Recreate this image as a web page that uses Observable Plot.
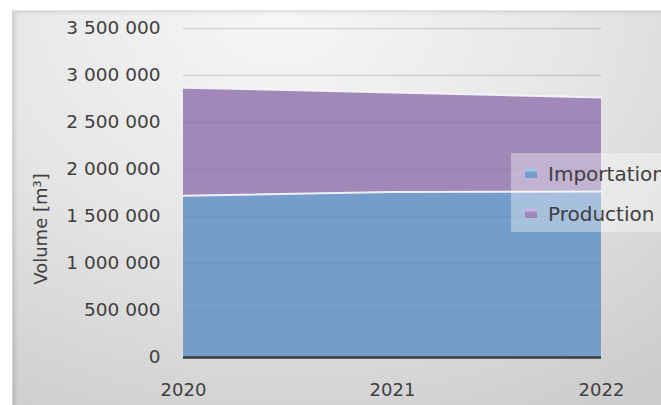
<!DOCTYPE html>
<html>
<head>
<meta charset="utf-8">
<script src="https://cdn.jsdelivr.net/npm/d3@7"></script>
<script src="https://cdn.jsdelivr.net/npm/@observablehq/plot@0.6"></script>
<style>
  html, body { margin: 0; padding: 0; background: #ffffff; }
  #wrap { position: relative; width: 661px; height: 405px; overflow: hidden; font-family: "DejaVu Sans", sans-serif; }
  #panel { position: absolute; left: 12px; top: 10px; right: -20px; bottom: -20px;
    background: radial-gradient(ellipse 90% 110% at 40% 0%, #f7f7f7 0%, #e6e6e6 50%, #cdcdcd 100%);
    border-top: 1px solid #e2e2e2; border-left: 1px solid #d2d2d2;
    box-shadow: inset 4px 3px 4px -2px rgba(0,0,0,0.12); }
  #chart { position: absolute; left: 0; top: 0; }
  #legend { position: absolute; left: 511px; top: 153px; width: 170px; height: 79px; background: rgba(255,255,255,0.36); }
  .item { position: absolute; left: 37px; font-size: 20px; color: #404040; white-space: nowrap; line-height: 24px; }
  .sw { position: absolute; left: 14px; width: 12px; height: 9px; }
</style>
</head>
<body>
<div id="wrap"><div id="panel"></div><div id="chart"></div><div id="legend"></div></div>
<script>
const years = [2020, 2021, 2022];
const series = ["Importation", "Production"];
const importation = [1720000, 1760000, 1765000];
const production = [1150000, 1060000, 1000000];
const colors = ["#759dcb", "#a089b9"];
const yTicks = [0, 500000, 1000000, 1500000, 2000000, 2500000, 3000000, 3500000];
const yTitle = "Volume [m³]";

const values = [importation, production];
const rows = [];
series.forEach((s, i) => years.forEach((yr, j) => rows.push({series: s, year: yr, value: values[i][j]})));

const loc = d3.formatLocale({decimal: ",", thousands: " ", grouping: [3], currency: ["", ""]});
const fmt = loc.format(",d");

const plot = Plot.plot({
  width: 661, height: 405,
  marginLeft: 183, marginRight: 60, marginTop: 28, marginBottom: 48,
  style: {background: "transparent", fontFamily: "DejaVu Sans", fontSize: "18px", color: "#404040", overflow: "visible"},
  x: {type: "linear", domain: [2020, 2022]},
  y: {domain: [0, 3500000]},
  color: {domain: series, range: colors},
  marks: [
    Plot.ruleY(yTicks.filter(d => d > 0), {stroke: "#000", strokeOpacity: 0.07, strokeWidth: 1.5}),
    Plot.areaY(rows, {x: "year", y: "value", fill: "series"}),
    Plot.lineY(rows, Plot.stackY2({x: "year", y: "value", z: "series", stroke: "#ffffff", strokeWidth: 2, strokeOpacity: 0.85})),
    Plot.ruleY(yTicks.filter(d => d > 0), {stroke: "#000", strokeOpacity: 0.05, strokeWidth: 1.5}),
    Plot.ruleY([0], {stroke: "#3c3c3c", strokeWidth: 2.5}),
    Plot.axisY(yTicks, {tickSize: 0, tickPadding: 23, tickFormat: fmt, label: null, fill: "#404040", fontSize: 18.5}),
    Plot.axisX(years, {tickSize: 0, tickPadding: 26, tickFormat: d => String(d), label: null, fill: "#404040"}),
    Plot.text([yTitle], {frameAnchor: "left", textAnchor: "middle", rotate: -90, dx: -142, dy: 36, fontSize: 18, fill: "#404040"})
  ]
});
document.getElementById("chart").appendChild(plot);

const legend = document.getElementById("legend");
series.forEach((s, i) => {
  const top = i === 0 ? 9 : 49;
  const sw = document.createElement("div");
  sw.className = "sw";
  sw.style.top = (top + 7) + "px";
  sw.style.background = `linear-gradient(to bottom, ${d3.color(colors[i]).brighter(0.9)} 0%, ${colors[i]} 45%, ${colors[i]} 100%)`;
  legend.appendChild(sw);
  const t = document.createElement("div");
  t.className = "item";
  t.style.top = top + "px";
  t.textContent = s;
  legend.appendChild(t);
});
</script>
</body>
</html>
